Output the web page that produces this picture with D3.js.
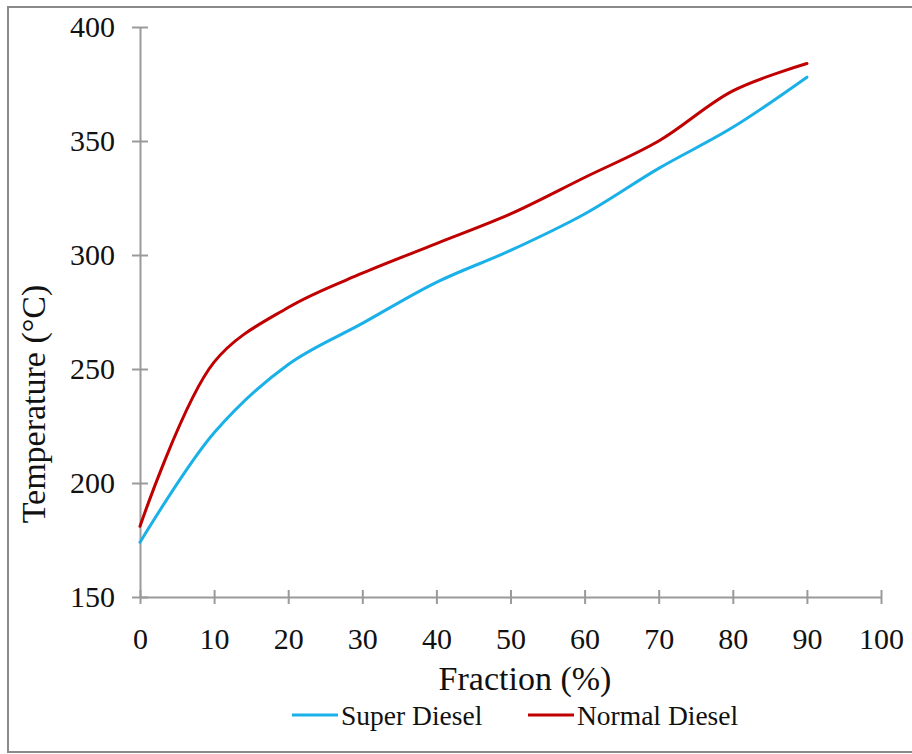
<!DOCTYPE html>
<html>
<head>
<meta charset="utf-8">
<script src="https://cdn.jsdelivr.net/npm/d3@7"></script>
<style>
  body { margin: 0; background: #fff; }
  svg text { font-family: "Liberation Serif", "Times New Roman", serif; fill: #111; }
</style>
</head>
<body>
<svg width="912" height="754"></svg>
<script>
var fraction = [0, 10, 20, 30, 40, 50, 60, 70, 80, 90];
var superDiesel = [174, 222, 252, 270, 288, 302, 318, 338, 356, 378];
var normalDiesel = [181, 253, 277, 292, 305, 318, 334, 350, 372, 384];
var xTicks = [0, 10, 20, 30, 40, 50, 60, 70, 80, 90, 100];
var yTicks = [150, 200, 250, 300, 350, 400];
var seriesNames = ['Super Diesel', 'Normal Diesel'];
var seriesColors = ['#1ab0e8', '#c00000'];

var svg = d3.select('svg');

// outer frame (right edge runs off the page like the original)
svg.append('rect')
  .attr('x', 8).attr('y', 7)
  .attr('width', 920).attr('height', 745)
  .attr('fill', 'none')
  .attr('stroke', '#8a8a8a')
  .attr('stroke-width', 2);

var xScale = d3.scaleLinear().domain([0, 100]).range([140, 881]);
var yScale = d3.scaleLinear().domain([150, 400]).range([597, 27]);

var xAxis = d3.axisBottom(xScale).tickValues(xTicks).tickSizeInner(7).tickSizeOuter(0).tickPadding(24);
var yAxis = d3.axisLeft(yScale).tickValues(yTicks).tickSizeInner(8).tickSizeOuter(0).tickPadding(17);

var xg = svg.append('g').attr('transform', 'translate(0,597)').call(xAxis);
var yg = svg.append('g').attr('transform', 'translate(140,0)').call(yAxis);

// ticks cross the axis line
xg.selectAll('.tick line').attr('y1', -7);
yg.selectAll('.tick line').attr('x1', -8).attr('x2', 8);

[xg, yg].forEach(function(g) {
  g.selectAll('path, line').attr('stroke', '#9a9a9a').attr('stroke-width', 2);
  g.selectAll('text').attr('font-size', 30).attr('fill', '#111')
    .style('font-family', '"Liberation Serif", "Times New Roman", serif');
});

var line = d3.line()
  .x(function(d) { return xScale(d[0]); })
  .y(function(d) { return yScale(d[1]); })
  .curve(d3.curveCatmullRom.alpha(0.5));

[superDiesel, normalDiesel].forEach(function(vals, i) {
  var pts = fraction.map(function(f, j) { return [f, vals[j]]; });
  svg.append('path')
    .datum(pts)
    .attr('d', line)
    .attr('fill', 'none')
    .attr('stroke', seriesColors[i])
    .attr('stroke-width', 3)
    .attr('stroke-linecap', 'round');
});

// axis titles
svg.append('text')
  .attr('x', 525).attr('y', 690)
  .attr('text-anchor', 'middle')
  .attr('font-size', 34)
  .text('Fraction (%)');

svg.append('text')
  .attr('transform', 'translate(45,404) rotate(-90)')
  .attr('text-anchor', 'middle')
  .attr('font-size', 34)
  .text('Temperature (°C)');

// legend
var legendX = [292, 528];
seriesNames.forEach(function(name, i) {
  svg.append('line')
    .attr('x1', legendX[i]).attr('x2', legendX[i] + 46)
    .attr('y1', 715).attr('y2', 715)
    .attr('stroke', seriesColors[i])
    .attr('stroke-width', 3);
  svg.append('text')
    .attr('x', legendX[i] + 49).attr('y', 725)
    .attr('font-size', 27.5)
    .text(name);
});
</script>
</body>
</html>
